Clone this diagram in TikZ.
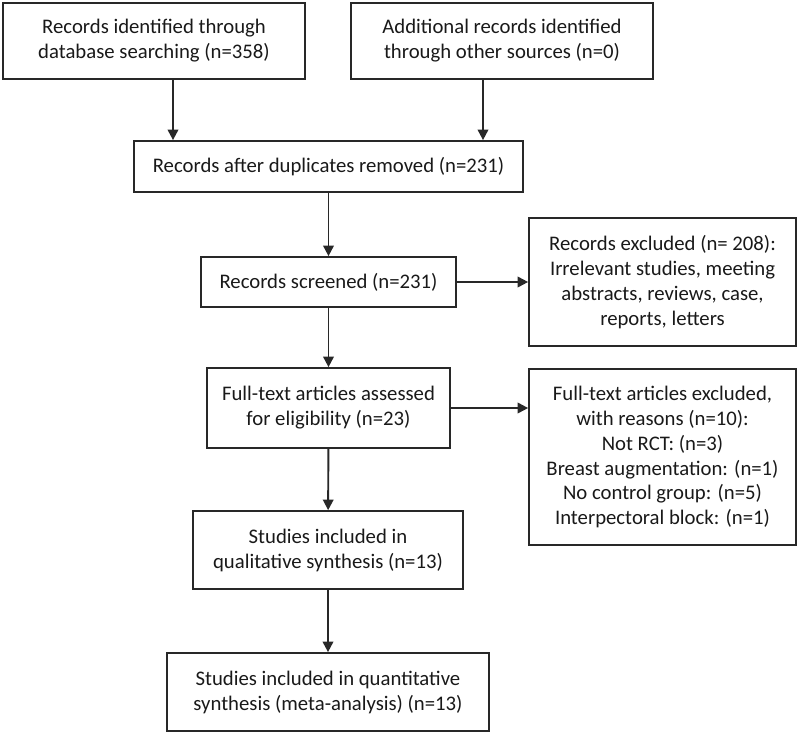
\documentclass[tikz,border=0pt]{standalone}
\usepackage{fontspec}
\usepackage{xcolor}
\usepackage{tikz}
\usetikzlibrary{arrows.meta}
\setmainfont{Carlito}
\definecolor{flowline}{RGB}{40, 40, 40}
\definecolor{flowtext}{RGB}{25, 25, 25}

\tikzset{
    flowbox/.style={draw=flowline, line width=1pt, align=center, inner sep=2pt,
        text=flowtext, font=\fontsize{11.8}{14.2}\selectfont},
    flowarrow/.style={draw=flowline, line width=1.1pt, -{Triangle[length=6pt, width=6pt]}}
}

\begin{document}
\begin{tikzpicture}[x=0.02cm, y=-0.02cm]
    \useasboundingbox (0,0) rectangle (800,734);
    % Identification
    \node[flowbox, minimum width=6.04cm, minimum height=1.52cm] (database) at (154,41)
        {Records identified through\\database searching (n=358)};
    \node[flowbox, minimum width=6.04cm, minimum height=1.52cm] (othersrc) at (502,41)
        {Additional records identified\\through other sources (n=0)};
    \node[flowbox, minimum width=7.78cm, minimum height=1.02cm] (dedup) at (328.5,166.5)
        {Records after duplicates removed (n=231)};

    % Screening
    \node[flowbox, minimum width=5.1cm, minimum height=1.0cm] (screened) at (328.5,282)
        {Records screened (n=231)};
    \node[flowbox, minimum width=5.34cm, minimum height=2.56cm] (excluded) at (662.5,282)
        {Records excluded (n= 208):\\Irrelevant studies, meeting\\abstracts, reviews, case,\\reports, letters};

    % Eligibility
    \node[flowbox, minimum width=4.86cm, minimum height=1.6cm] (fulltext) at (328.5,408)
        {Full-text articles assessed\\for eligibility (n=23)};
    \node[flowbox, minimum width=5.34cm, minimum height=3.52cm] (ftexcluded) at (662.5,457)
        {Full-text articles excluded,\\with reasons (n=10):\\Not RCT: (n=3)\\Breast augmentation: (n=1)\\No control group: (n=5)\\Interpectoral block: (n=1)};

    % Included
    \node[flowbox, minimum width=5.4cm, minimum height=1.56cm] (qualitative) at (328,550)
        {Studies included in\\qualitative synthesis (n=13)};
    \node[flowbox, minimum width=6.44cm, minimum height=1.56cm] (quantitative) at (328,692)
        {Studies included in quantitative\\synthesis (meta-analysis) (n=13)};

    % Arrows
    \draw[flowarrow] ([xshift=0.38cm]database.south) -- ([xshift=0.38cm]database.south |- dedup.north);
    \draw[flowarrow] ([xshift=-0.38cm]othersrc.south) -- ([xshift=-0.38cm]othersrc.south |- dedup.north);
    \draw[flowarrow] (dedup) -- (screened);
    \draw[flowarrow] (screened) -- (excluded);
    \draw[flowarrow] (screened) -- (fulltext);
    \draw[flowarrow] (fulltext.east) -- (fulltext.east -| ftexcluded.west);
    \draw[flowarrow] (fulltext) -- (qualitative);
    \draw[flowarrow] (qualitative) -- (quantitative);
\end{tikzpicture}
\end{document}
